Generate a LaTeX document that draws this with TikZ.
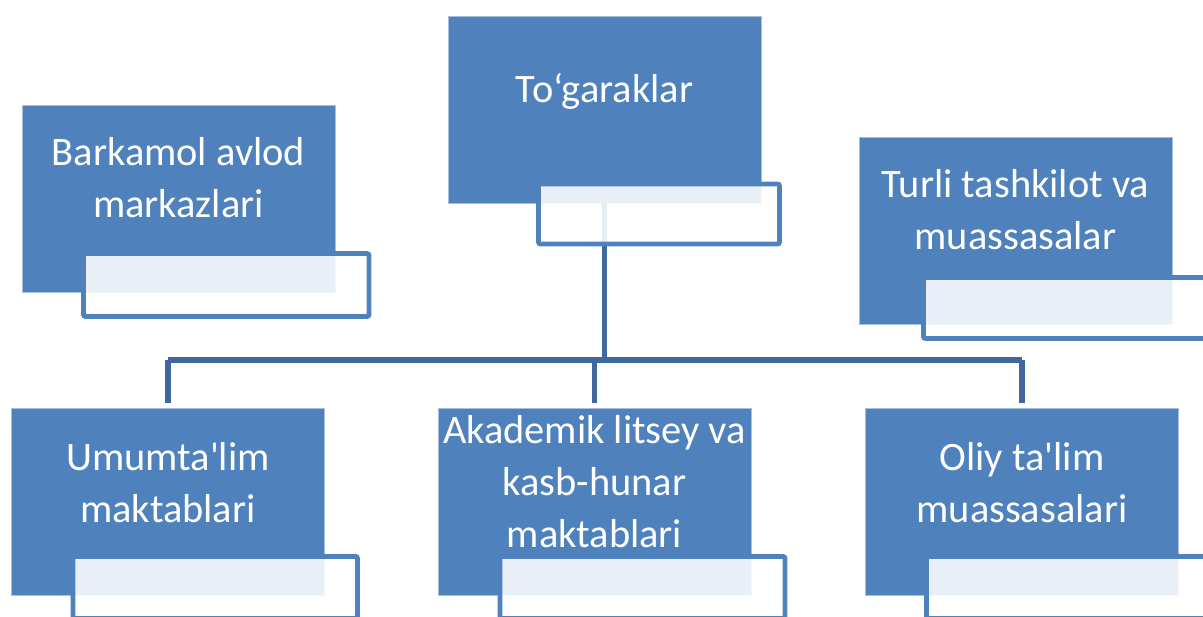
\documentclass[tikz,border=0pt]{standalone}
\usepackage{fontspec}
\newfontfamily\boxfont{Carlito}
\definecolor{acc}{HTML}{4F81BD}
\definecolor{accedge}{HTML}{A7BFDE}
\definecolor{conncol}{HTML}{41689E}
\tikzset{
  bluebox/.style={rectangle, fill=acc, draw=accedge, line width=0.6pt,
    minimum width=234.75pt, minimum height=140.25pt, inner sep=0pt},
  notebox/.style={rectangle, draw=acc, line width=3.6pt, fill=white, fill opacity=0.88,
    rounded corners=1.5pt, inner sep=0pt},
  lbl/.style={text=white, align=center, inner sep=0pt, anchor=north,
    font=\boxfont\fontsize{30.3}{39}\selectfont},
  conn/.style={draw=conncol, line width=3.8pt, line join=round}
}
\begin{document}
\begin{tikzpicture}[x=0.75pt, y=-0.75pt]
\useasboundingbox (0,0) rectangle (1203,617);
\clip (0,0) rectangle (1203,617);
% blue boxes
\node[bluebox] (btop) at (604.5,109.5) {};
\node[bluebox] (btl) at (178.5,199) {};
\node[bluebox] (btr) at (1015.5,230.5) {};
\node[bluebox] (bbl) at (168,501.5) {};
\node[bluebox] (bbm) at (594.5,501.5) {};
\node[bluebox] (bbr) at (1022,501.5) {};
% connectors
\coordinate (bar) at (604.5,360);
\draw[conn] (btop.south) -- (bar);
\draw[conn] (bbl.north |- bar) -- (bbr.north |- bar);
\draw[conn, shorten >=3.75pt] (bbl.north |- bar) -- (bbl.north);
\draw[conn, shorten >=3.75pt] (bbm.north |- bar) -- (bbm.north);
\draw[conn, shorten >=3.75pt] (bbr.north |- bar) -- (bbr.north);
% outlined note boxes
\node[notebox, minimum width=180.75pt, minimum height=45pt] (ntop) at (659,214) {};
\node[notebox, minimum width=214.1pt, minimum height=47.25pt] (ntl) at (226.25,285) {};
\node[notebox, minimum width=214.1pt, minimum height=45.75pt] (ntr) at (1066.25,308) {};
\node[notebox, minimum width=213.4pt, minimum height=46.5pt] (nbl) at (215.25,587.5) {};
\node[notebox, minimum width=213.75pt, minimum height=46.5pt] (nbm) at (642.5,587.5) {};
\node[notebox, minimum width=213.4pt, minimum height=46.5pt] (nbr) at (1068.75,587.5) {};
% labels
\node[lbl] (ttop) at (604.5,72.7) {\rule{0pt}{22pt}To‘garaklar};
\node[lbl] (ttl) at (178.5,135.7) {\rule{0pt}{22pt}Barkamol avlod\\markazlari};
\node[lbl] (ttr) at (1015.5,167.7) {\rule{0pt}{22pt}Turli tashkilot va\\muassasalar};
\node[lbl] (tbl) at (168,440.7) {\rule{0pt}{22pt}Umumta'lim\\maktablari};
\node[lbl] (tbm) at (594.5,413.7) {\rule{0pt}{22pt}Akademik litsey va\\kasb-hunar\\maktablari};
\node[lbl] (tbr) at (1022,440.7) {\rule{0pt}{22pt}Oliy ta'lim\\muassasalari};
\end{tikzpicture}
\end{document}
